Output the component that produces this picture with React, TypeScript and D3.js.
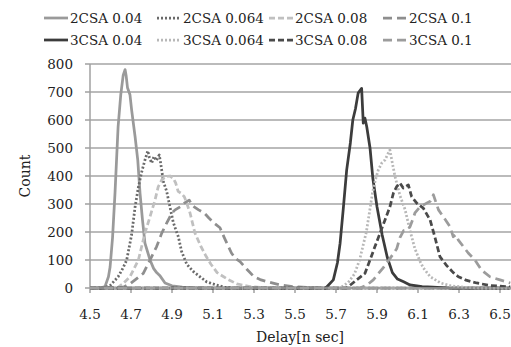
import React from "react";
import * as d3 from "d3";

// [delay (ns), count]
const csa2_004: [number, number][] = [
  [4.5, 0], [4.55, 0], [4.573, 5], [4.59, 40], [4.598, 75], [4.61, 180], [4.622, 340], [4.637, 575],
  [4.65, 690], [4.662, 760], [4.671, 780], [4.676, 760], [4.683, 715], [4.695, 690], [4.703, 636],
  [4.72, 540], [4.733, 457], [4.744, 339], [4.756, 243], [4.768, 160], [4.793, 100], [4.81, 70],
  [4.825, 55], [4.84, 45], [4.866, 18], [4.9, 8], [4.95, 3], [5.0, 1], [5.1, 0], [6.55, 0],
];
const csa2_0064: [number, number][] = [
  [4.5, 0], [4.573, 2], [4.6, 10], [4.637, 40], [4.66, 70], [4.679, 100], [4.703, 190], [4.72, 290],
  [4.736, 360], [4.752, 414], [4.768, 457], [4.782, 490], [4.79, 465], [4.801, 446], [4.812, 470],
  [4.822, 455], [4.838, 475], [4.846, 440], [4.858, 380], [4.874, 345], [4.89, 290], [4.906, 235],
  [4.92, 205], [4.931, 183], [4.947, 130], [4.972, 85], [5.002, 60], [5.037, 40], [5.069, 22],
  [5.118, 10], [5.16, 2], [5.2, 0], [6.55, 0],
];
const csa2_008: [number, number][] = [
  [4.5, 0], [4.637, 2], [4.66, 15], [4.695, 40], [4.736, 100], [4.768, 196], [4.793, 255], [4.817, 314],
  [4.833, 362], [4.85, 386], [4.87, 398], [4.89, 400], [4.906, 392], [4.918, 375], [4.93, 345],
  [4.945, 338], [4.96, 326], [4.972, 303], [4.988, 268], [5.012, 196], [5.04, 150], [5.065, 115],
  [5.09, 85], [5.12, 55], [5.167, 33], [5.215, 15], [5.28, 5], [5.35, 1], [5.4, 0], [6.55, 0],
];
const csa2_01: [number, number][] = [
  [4.5, 0], [4.66, 2], [4.695, 15], [4.72, 29], [4.76, 52], [4.793, 100], [4.825, 148], [4.85, 196],
  [4.874, 232], [4.9, 268], [4.915, 279], [4.94, 290], [4.96, 303], [4.984, 314], [4.995, 300],
  [5.008, 290], [5.03, 279], [5.057, 268], [5.08, 250], [5.105, 232], [5.134, 215], [5.155, 180],
  [5.19, 125], [5.21, 105], [5.232, 94], [5.264, 68], [5.3, 40], [5.33, 30], [5.362, 23],
  [5.427, 11], [5.49, 5], [5.56, 2], [5.62, 0], [6.55, 0],
];
const csa3_004: [number, number][] = [
  [4.5, 0], [5.65, 0], [5.687, 29], [5.707, 90], [5.72, 160], [5.735, 279], [5.752, 421], [5.77, 518],
  [5.782, 600], [5.795, 640], [5.808, 696], [5.825, 713], [5.833, 589], [5.841, 607], [5.85, 576],
  [5.866, 500], [5.88, 390], [5.9, 290], [5.925, 190], [5.95, 110], [5.975, 55], [6.0, 32],
  [6.03, 22], [6.061, 11], [6.12, 5], [6.173, 3], [6.256, 0], [6.55, 0],
];
const csa3_0064: [number, number][] = [
  [4.5, 0], [5.72, 0], [5.76, 20], [5.79, 50], [5.815, 100], [5.848, 200], [5.865, 279], [5.878, 340],
  [5.892, 386], [5.906, 421], [5.923, 446], [5.939, 457], [5.955, 482], [5.963, 493], [5.972, 457],
  [5.988, 398], [6.012, 330], [6.037, 280], [6.061, 205], [6.085, 140], [6.11, 95], [6.126, 72],
  [6.16, 40], [6.21, 18], [6.26, 8], [6.32, 3], [6.4, 0], [6.55, 0],
];
const csa3_008: [number, number][] = [
  [4.5, 0], [5.752, 0], [5.801, 29], [5.841, 52], [5.866, 100], [5.89, 148], [5.915, 196], [5.939, 243],
  [5.963, 290], [5.98, 339], [5.996, 362], [6.012, 375], [6.028, 357], [6.053, 368], [6.069, 326],
  [6.094, 303], [6.126, 285], [6.159, 243], [6.183, 180], [6.207, 112], [6.24, 80], [6.272, 55],
  [6.297, 40], [6.334, 28], [6.386, 18], [6.451, 9], [6.533, 5], [6.55, 4],
];
const csa3_01: [number, number][] = [
  [4.5, 0], [5.817, 0], [5.85, 10], [5.882, 29], [5.93, 72], [5.963, 105], [5.996, 140], [6.012, 180],
  [6.03, 205], [6.045, 207], [6.061, 219], [6.077, 250], [6.085, 268], [6.11, 290], [6.142, 303],
  [6.16, 310], [6.175, 333], [6.2, 279], [6.223, 255], [6.256, 219], [6.272, 183], [6.285, 190],
  [6.297, 171], [6.321, 148], [6.345, 125], [6.378, 100], [6.41, 64], [6.451, 40], [6.5, 29], [6.55, 18],
];

const seriesNames = [
  "2CSA 0.04", "2CSA 0.064", "2CSA 0.08", "2CSA 0.1",
  "3CSA 0.04", "3CSA 0.064", "3CSA 0.08", "3CSA 0.1",
];
const seriesData = [csa2_004, csa2_0064, csa2_008, csa2_01, csa3_004, csa3_0064, csa3_008, csa3_01];

const xTicks = [4.5, 4.7, 4.9, 5.1, 5.3, 5.5, 5.7, 5.9, 6.1, 6.3, 6.5];
const yTicks = [0, 100, 200, 300, 400, 500, 600, 700, 800];

const styles = [
  { color: "#9a9a9a", dash: "" },
  { color: "#6a6a6a", dash: "2 2" },
  { color: "#c0c0c0", dash: "6 3" },
  { color: "#8e8e8e", dash: "9 5" },
  { color: "#3c3c3c", dash: "" },
  { color: "#b8b8b8", dash: "2 2" },
  { color: "#4a4a4a", dash: "6 3" },
  { color: "#9c9c9c", dash: "9 5" },
];

const W = 511;
const H = 347;
const FONT = "'DejaVu Serif', serif";

export default function App() {
  const x = d3.scaleLinear().domain([4.5, 6.5]).range([90, 500]);
  const y = d3.scaleLinear().domain([0, 800]).range([288, 64]);
  const line = d3
    .line<[number, number]>()
    .x((d) => x(d[0]))
    .y((d) => y(d[1]));

  const legendX = [44, 157, 269, 383];
  const legendY = [18, 40];

  return (
    <svg
      width={W}
      height={H}
      style={{ position: "absolute", left: 0, top: 0, background: "#fff" }}
      fontFamily={FONT}
    >
      {/* grid */}
      {yTicks.map((t) => (
        <line key={t} x1={90} x2={W} y1={y(t)} y2={y(t)} stroke="#a4a4a4" strokeWidth={1.6} />
      ))}
      {/* y axis */}
      <line x1={90} x2={90} y1={y(800)} y2={y(0)} stroke="#a0a0a0" strokeWidth={1.5} />
      {yTicks.map((t) => (
        <g key={"yt" + t}>
          <line x1={85} x2={90} y1={y(t)} y2={y(t)} stroke="#a0a0a0" strokeWidth={1.5} />
          <text x={73} y={y(t) + 5} textAnchor="end" fontSize={13.5} fill="#222">
            {t}
          </text>
        </g>
      ))}
      {/* x ticks */}
      {xTicks.map((t) => (
        <g key={"xt" + t}>
          <line x1={x(t)} x2={x(t)} y1={288} y2={293} stroke="#a0a0a0" strokeWidth={1.5} />
          <text x={x(t)} y={319} textAnchor="middle" fontSize={13.5} fill="#222">
            {t.toFixed(1)}
          </text>
        </g>
      ))}
      <text transform={`translate(30,176) rotate(-90)`} textAnchor="middle" fontSize={14} fill="#222">
        Count
      </text>
      <text x={300} y={342} textAnchor="middle" fontSize={14} fill="#222">
        Delay[n sec]
      </text>

      {/* series */}
      {seriesData.map((d, i) => (
        <path
          key={seriesNames[i]}
          d={line(d) || ""}
          fill="none"
          stroke={styles[i].color}
          strokeWidth={2.75}
          strokeDasharray={styles[i].dash || undefined}
          strokeLinejoin="round"
        />
      ))}
      {/* x axis line on top */}
      <line x1={90} x2={W} y1={288} y2={288} stroke="#a0a0a0" strokeWidth={1.5} />

      {/* legend */}
      {seriesNames.map((name, i) => {
        const lx = legendX[i % 4];
        const ly = legendY[Math.floor(i / 4)];
        return (
          <g key={"lg" + name}>
            <line
              x1={lx}
              x2={lx + 24}
              y1={ly}
              y2={ly}
              stroke={styles[i].color}
              strokeWidth={2.75}
              strokeDasharray={styles[i].dash || undefined}
            />
            <text x={lx + 26} y={ly + 5} fontSize={13.5} fill="#222">
              {name}
            </text>
          </g>
        );
      })}
    </svg>
  );
}
